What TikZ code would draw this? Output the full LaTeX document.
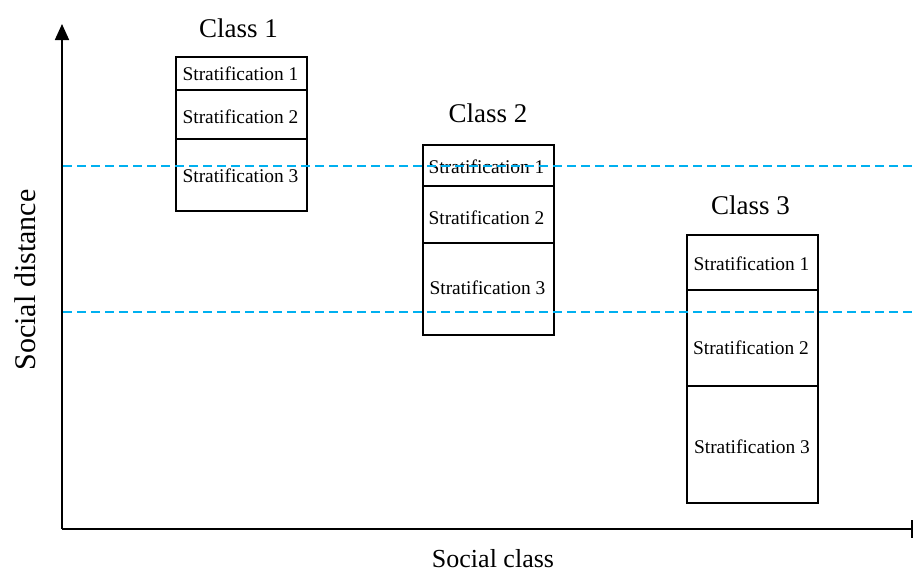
\documentclass[tikz,border=0pt]{standalone}
\usepackage{fontspec}
\setmainfont{Liberation Serif}[Ligatures=CommonOff]
\usetikzlibrary{arrows.meta}
\definecolor{levelblue}{RGB}{0,176,240}
\begin{document}
\begin{tikzpicture}[x=1pt,y=-1pt,
  cell/.style={draw, line width=1.5pt, minimum width=131pt, inner sep=0pt, anchor=north west},
  strat/.style={font=\fontsize{19.4}{22}\selectfont, inner sep=0pt},
  classlabel/.style={font=\fontsize{27}{30}\selectfont, inner sep=0pt},
  axislabel/.style={font=\fontsize{26}{30}\selectfont, inner sep=0pt},
  axis/.style={line width=1.8pt},
  level/.style={draw=levelblue, line width=1.7pt, dash pattern=on 8.5pt off 5.5pt}]

\useasboundingbox (0,0) rectangle (916,574);

% axes
\coordinate (origin) at (62,529);
\coordinate (ytop) at (62,24);
\coordinate (xend) at (913,529);
\draw[axis, -{Triangle[length=16pt,width=14pt]}] (origin) -- (ytop);
\draw[axis, -{Bar[width=18pt,line width=2.4pt]}] (origin) -- (xend);

% class 1
\node[cell, minimum height=33pt] (c1a) at (175,56) {};
\node[cell, minimum height=49pt] (c1b) at (175,89) {};
\node[cell, minimum height=72pt] (c1c) at (175,138) {};
\node[strat] (t1a) at (240.5,74) {Stratification 1};
\node[strat] (t1b) at (240.5,117) {Stratification 2};
\node[strat] (t1c) at (240.5,176) {Stratification 3};
\node[classlabel] (k1) at (238.5,28) {Class 1};

% class 2
\node[cell, minimum height=41pt] (c2a) at (422,144) {};
\node[cell, minimum height=57pt] (c2b) at (422,185) {};
\node[cell, minimum height=92pt] (c2c) at (422,242) {};
\node[strat] (t2a) at (486.5,167) {Stratification 1};
\node[strat] (t2b) at (486.5,218) {Stratification 2};
\node[strat] (t2c) at (487.5,288) {Stratification 3};
\node[classlabel] (k2) at (488,113.5) {Class 2};

% class 3
\node[cell, minimum height=55pt] (c3a) at (686,234) {};
\node[cell, minimum height=96pt] (c3b) at (686,289) {};
\node[cell, minimum height=117pt] (c3c) at (686,385) {};
\node[strat] (t3a) at (751.5,264) {Stratification 1};
\node[strat] (t3b) at (751,348) {Stratification 2};
\node[strat] (t3c) at (752,447) {Stratification 3};
\node[classlabel] (k3) at (750.5,205) {Class 3};

% reference levels
\coordinate (l1a) at (63,166);
\coordinate (l1b) at (913,166);
\coordinate (l2a) at (63,312);
\coordinate (l2b) at (913,312);
\draw[level] (l1a) -- (l1b);
\draw[level] (l2a) -- (l2b);

% axis titles
\node[axislabel, rotate=90, font=\fontsize{30}{34}\selectfont] (ylab) at (25,280) {Social distance};
\node[axislabel] (xlab) at (493,559) {Social class};
\end{tikzpicture}
\end{document}
